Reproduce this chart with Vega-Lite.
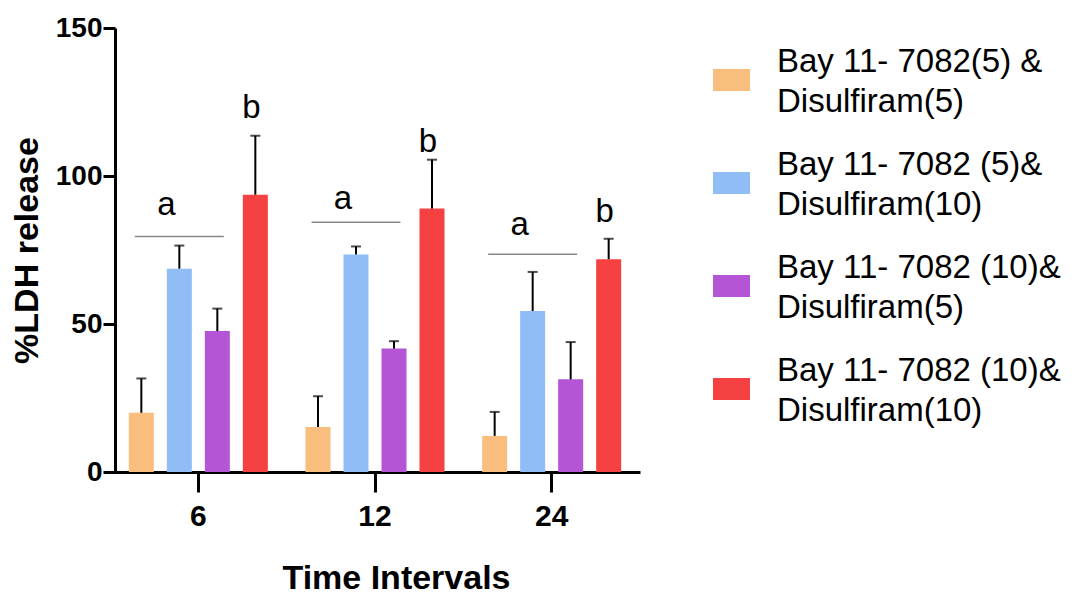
{
  "$schema": "https://vega.github.io/schema/vega-lite/v6.json",
  "autosize": {"type": "none"},
  "padding": {"left": 115, "top": 28, "right": 443, "bottom": 133},
  "width": 521,
  "height": 444,
  "background": "white",
  "config": {
    "view": {"stroke": null},
    "font": "Liberation Sans",
    "axis": {"grid": false, "domainColor": "black", "tickColor": "black", "labelColor": "black", "titleColor": "black"},
    "style": {"guide-label": {"lineHeight": 40}}
  },
  "datasets": {
    "bars": [
      {"time": "6", "group": "Bay 11- 7082(5) & Disulfiram(5)", "mean": 20.0, "upper": 31.6},
      {"time": "6", "group": "Bay 11- 7082 (5)& Disulfiram(10)", "mean": 68.7, "upper": 76.5},
      {"time": "6", "group": "Bay 11- 7082 (10)& Disulfiram(5)", "mean": 47.6, "upper": 55.2},
      {"time": "6", "group": "Bay 11- 7082 (10)& Disulfiram(10)", "mean": 93.7, "upper": 113.6},
      {"time": "12", "group": "Bay 11- 7082(5) & Disulfiram(5)", "mean": 15.2, "upper": 25.6},
      {"time": "12", "group": "Bay 11- 7082 (5)& Disulfiram(10)", "mean": 73.5, "upper": 76.2},
      {"time": "12", "group": "Bay 11- 7082 (10)& Disulfiram(5)", "mean": 41.7, "upper": 44.2},
      {"time": "12", "group": "Bay 11- 7082 (10)& Disulfiram(10)", "mean": 89.0, "upper": 105.5},
      {"time": "24", "group": "Bay 11- 7082(5) & Disulfiram(5)", "mean": 12.2, "upper": 20.3},
      {"time": "24", "group": "Bay 11- 7082 (5)& Disulfiram(10)", "mean": 54.4, "upper": 67.6},
      {"time": "24", "group": "Bay 11- 7082 (10)& Disulfiram(5)", "mean": 31.3, "upper": 43.9},
      {"time": "24", "group": "Bay 11- 7082 (10)& Disulfiram(10)", "mean": 71.9, "upper": 78.8}
    ],
    "lines": [
      {"time": "6", "group": "Bay 11- 7082 (5)& Disulfiram(10)", "value": 79.6},
      {"time": "12", "group": "Bay 11- 7082 (5)& Disulfiram(10)", "value": 84.4},
      {"time": "24", "group": "Bay 11- 7082 (5)& Disulfiram(10)", "value": 73.6}
    ],
    "lettersA": [
      {"time": "6", "group": "Bay 11- 7082 (5)& Disulfiram(10)", "label": "a", "value": 86.7},
      {"time": "12", "group": "Bay 11- 7082 (5)& Disulfiram(10)", "label": "a", "value": 89.0},
      {"time": "24", "group": "Bay 11- 7082 (5)& Disulfiram(10)", "label": "a", "value": 80.0}
    ],
    "lettersB": [
      {"time": "6", "group": "Bay 11- 7082 (10)& Disulfiram(10)", "label": "b", "value": 119.5},
      {"time": "12", "group": "Bay 11- 7082 (10)& Disulfiram(10)", "label": "b", "value": 108.0},
      {"time": "24", "group": "Bay 11- 7082 (10)& Disulfiram(10)", "label": "b", "value": 84.4}
    ]
  },
  "encoding": {
    "x": {
      "field": "time", "type": "nominal",
      "scale": {"domain": ["6", "12", "24"], "range": [-5, 525], "paddingInner": 0, "paddingOuter": 0},
      "axis": {
        "labelAngle": 0, "labelFontSize": 30, "labelFontWeight": "bold", "labelPadding": 9,
        "tickSize": 20, "tickWidth": 3, "domainWidth": 3,
        "title": "Time Intervals", "titleFontSize": 34, "titleFontWeight": "bold",
        "titleX": 281, "titleY": 116, "titleBaseline": "alphabetic", "titleAlign": "center"
      }
    },
    "xOffset": {
      "field": "group", "type": "nominal",
      "scale": {
        "domain": ["Bay 11- 7082(5) & Disulfiram(5)", "Bay 11- 7082 (5)& Disulfiram(10)", "Bay 11- 7082 (10)& Disulfiram(5)", "Bay 11- 7082 (10)& Disulfiram(10)"],
        "paddingInner": 0.342, "paddingOuter": 0.4955
      }
    }
  },
  "layer": [
    {
      "data": {"name": "bars"},
      "mark": {"type": "bar"},
      "encoding": {
        "y": {
          "field": "mean", "type": "quantitative",
          "scale": {"domain": [0, 150], "nice": false},
          "axis": {
            "values": [0, 50, 100, 150], "labelFontSize": 28, "labelFontWeight": "bold", "labelPadding": 1,
            "tickSize": 12, "tickWidth": 3, "domainWidth": 3,
            "title": "%LDH release", "titleFontSize": 34, "titleFontWeight": "bold",
            "titleAngle": -90, "titleX": -78, "titleY": 222, "titleAlign": "center", "titleBaseline": "alphabetic"
          }
        },
        "color": {
          "field": "group", "type": "nominal",
          "scale": {
            "domain": ["Bay 11- 7082(5) & Disulfiram(5)", "Bay 11- 7082 (5)& Disulfiram(10)", "Bay 11- 7082 (10)& Disulfiram(5)", "Bay 11- 7082 (10)& Disulfiram(10)"],
            "range": ["#F9BE7D", "#90BDF5", "#B455D5", "#F54141"]
          },
          "legend": {
            "orient": "none", "legendX": 598, "legendY": 15, "padding": 0,
            "title": null,
            "symbolType": "M-1,0.4H1V1.6H-1Z", "symbolSize": 1369, "symbolStrokeWidth": 0, "symbolOpacity": 1,
            "labelFontSize": 33, "labelFont": "Liberation Sans", "labelColor": "black",
            "labelLimit": 500, "labelOffset": 27, "labelBaseline": "middle", "rowPadding": 27,
            "labelExpr": "[substring(datum.label, 0, indexof(datum.label, 'Disulfiram') - 1), substring(datum.label, indexof(datum.label, 'Disulfiram'))]"
          }
        }
      }
    },
    {
      "data": {"name": "bars"},
      "mark": {"type": "rule", "color": "black", "strokeWidth": 2},
      "encoding": {
        "y": {"field": "mean", "type": "quantitative"},
        "y2": {"field": "upper"}
      }
    },
    {
      "data": {"name": "bars"},
      "mark": {"type": "tick", "color": "black", "size": 10, "thickness": 2},
      "encoding": {
        "y": {"field": "upper", "type": "quantitative"}
      }
    },
    {
      "data": {"name": "lines"},
      "mark": {"type": "tick", "color": "#555555", "size": 89, "thickness": 1.5, "xOffset": -13},
      "encoding": {
        "y": {"field": "value", "type": "quantitative"}
      }
    },
    {
      "data": {"name": "lettersA"},
      "mark": {"type": "text", "fontSize": 33, "font": "Liberation Sans", "color": "black", "baseline": "alphabetic", "dx": -13},
      "encoding": {
        "y": {"field": "value", "type": "quantitative"},
        "text": {"field": "label"}
      }
    },
    {
      "data": {"name": "lettersB"},
      "mark": {"type": "text", "fontSize": 33, "font": "Liberation Sans", "color": "black", "baseline": "alphabetic", "dx": -4},
      "encoding": {
        "y": {"field": "value", "type": "quantitative"},
        "text": {"field": "label"}
      }
    }
  ]
}
